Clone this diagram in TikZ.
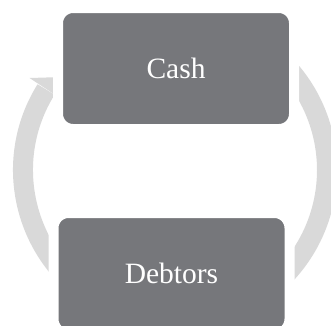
\documentclass[tikz,border=0pt]{standalone}
\usepackage{fontspec}
\setmainfont{Liberation Serif}
\usetikzlibrary{calc}
\definecolor{boxgray}{RGB}{118,119,123}
\definecolor{bandgray}{RGB}{217,217,217}
\begin{document}
\begin{tikzpicture}[x=1pt,y=1pt,
  stagebox/.style={fill=boxgray, draw=white, line width=10pt, rounded corners=15pt,
    minimum width=236pt, minimum height=121pt, inner sep=0pt,
    text=white, font=\fontsize{29.5}{34}\selectfont},
  band/.style={draw=bandgray, line width=20pt}]
\useasboundingbox (0,0) rectangle (331,-325);
\coordinate (C) at (175,-170);
% ring body
\draw[band] ($(C)+(148:152)$) arc[start angle=148, end angle=420, radius=152];
% arrow head
\coordinate (h1) at (29.5,-78);
\coordinate (h2) at (63,-77);
\coordinate (h3) at ($(C)+(148:130)$);
\fill[bandgray] (h1) -- (h2) -- (h3) -- cycle;
% boxes
\node[stagebox] (cash) at (176,-68.5) {Cash};
\node[stagebox] (debtors) at (171.5,-273.5) {Debtors};
\end{tikzpicture}
\end{document}
